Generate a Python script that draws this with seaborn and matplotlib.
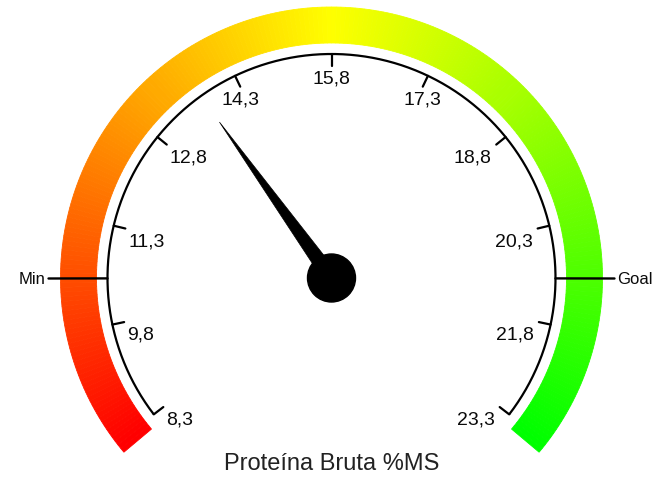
import numpy as np
import matplotlib
matplotlib.use("Agg")
import matplotlib.pyplot as plt
from matplotlib.patches import Wedge, Circle, Polygon
import seaborn as sns

# ---- data ----
scale_min = 8.3
scale_max = 23.3
tick_values = [8.3, 9.8, 11.3, 12.8, 14.3, 15.8, 17.3, 18.8, 20.3, 21.8, 23.3]
tick_labels = ["8,3", "9,8", "11,3", "12,8", "14,3", "15,8", "17,3", "18,8", "20,3", "21,8", "23,3"]
needle_value = 13.7
min_value = 10.5
goal_value = 21.1
marker_labels = ["Min", "Goal"]
title = "Proteína Bruta %MS"
band_colors = ["#FF0000", "#FFFF00", "#00FF00"]

# ---- style / layout ----
sns.set_theme(style="white")
plt.rcParams["font.family"] = ["Liberation Sans", "DejaVu Sans"]

A_START, A_END = 217.5, -37.5      # angles of scale_min / scale_max
BAND_START, BAND_END = 220.0, -40.0
R_DIAL = 224
R_TICK_IN = 212
R_BAND_IN, R_BAND_OUT = 235, 271


def ang(v):
    return A_START + (v - scale_min) / (scale_max - scale_min) * (A_END - A_START)


def pol(r, a):
    t = np.deg2rad(a)
    return r * np.cos(t), r * np.sin(t)


fig = plt.figure(figsize=(6.7, 4.79), dpi=100)
ax = fig.add_axes([0, 0, 1, 1])
ax.set_xlim(-331.5, 338.5)
ax.set_ylim(-201, 278)
ax.axis("off")

# gradient band
n = 260
cols = sns.blend_palette(band_colors, n_colors=n)
edges = np.linspace(BAND_START, BAND_END, n + 1)
for i in range(n):
    a1, a2 = edges[i + 1], edges[i]
    ax.add_patch(Wedge((0, 0), R_BAND_OUT, a1, a2, width=R_BAND_OUT - R_BAND_IN,
                       facecolor=cols[i], edgecolor=cols[i], lw=0.6))

# dial arc
th = np.deg2rad(np.linspace(A_START, A_END, 400))
ax.plot(R_DIAL * np.cos(th), R_DIAL * np.sin(th), color="black", lw=1.6, solid_capstyle="butt")

# ticks and labels
for v, lab in zip(tick_values, tick_labels):
    a = ang(v)
    x0, y0 = pol(R_DIAL, a)
    x1, y1 = pol(R_TICK_IN, a)
    ax.plot([x0, x1], [y0, y1], color="black", lw=1.6)
    c = np.cos(np.deg2rad(a))
    if c < -0.5:
        ha, dx = "left", 3
    elif c > 0.5:
        ha, dx = "right", -5
    else:
        ha, dx = "center", 0
    ax.text(x1 + dx, y1 - 17.5, lab, ha=ha, va="baseline", fontsize=14, color="#0a0a0a")

# Min / Goal markers
for v, lab in zip([min_value, goal_value], marker_labels):
    a = ang(v)
    xo, yo = pol(R_DIAL, a)
    c = np.cos(np.deg2rad(a))
    xe, ye = pol(283, a)
    ax.plot([xo, xe], [yo, ye], color="black", lw=1.7)
    ax.text(xe + (3 if c > 0 else -3), ye - 6, lab, ha="left" if c > 0 else "right",
            va="baseline", fontsize=12, color="#0a0a0a")

# needle
a = ang(needle_value)
tip = pol(192, a)
b1 = pol(8, a + 90)
b2 = pol(8, a - 90)
ax.add_patch(Polygon([tip, b1, b2], closed=True, facecolor="black", edgecolor="black", lw=0.5))
ax.add_patch(Circle((0, 0), 24, facecolor="black", edgecolor="black"))

# title
ax.text(0, -192, title, ha="center", va="baseline", fontsize=17, color="#222222")

fig.savefig("out.png", dpi=100, facecolor="white")
